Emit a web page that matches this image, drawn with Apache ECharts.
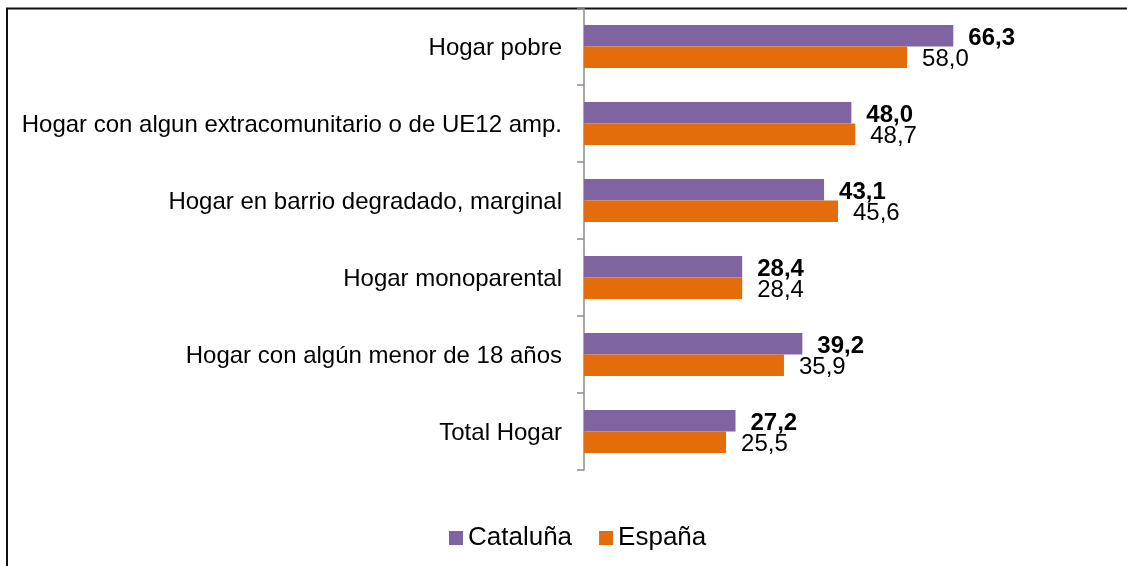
<!DOCTYPE html>
<html>
<head>
<meta charset="utf-8">
<script src="https://cdn.jsdelivr.net/npm/echarts@6/dist/echarts.min.js"></script>
<style>
  html, body { margin: 0; padding: 0; background: #fff; }
  #chart { width: 1127px; height: 566px; }
</style>
</head>
<body>
<div id="chart"></div>
<script>
// Household categories, listed top to bottom
const categories = [
  'Hogar pobre',
  'Hogar con algun extracomunitario o de UE12 amp.',
  'Hogar en barrio degradado, marginal',
  'Hogar monoparental',
  'Hogar con algún menor de 18 años',
  'Total Hogar'
];
const cataluna = [66.3, 48.0, 43.1, 28.4, 39.2, 27.2];
const espana   = [58.0, 48.7, 45.6, 28.4, 35.9, 25.5];

const FONT = "'Liberation Sans', Arial, sans-serif";
const fmt = p => p.value.toFixed(1).replace('.', ',');

const chart = echarts.init(document.getElementById('chart'), null, { renderer: 'canvas' });
chart.setOption({
  backgroundColor: '#ffffff',
  animation: false,
  textStyle: { fontFamily: FONT },
  grid: { left: 584, right: 97.4, top: 8, bottom: 96, containLabel: false },
  xAxis: { type: 'value', min: 0, max: 80, show: false },
  yAxis: {
    type: 'category',
    inverse: true,
    data: categories,
    axisLine: { show: true, lineStyle: { color: '#8c8c8c', width: 1.5 } },
    axisTick: { show: true, length: 7, alignWithLabel: false, lineStyle: { color: '#8c8c8c', width: 1.5 } },
    axisLabel: {
      margin: 22, fontSize: 24, color: '#000', fontFamily: FONT,
      formatter: v => '{c|' + v + '}',
      rich: { c: { fontSize: 24, color: '#000', fontFamily: FONT, padding: [4, 0, 0, 0] } }
    },
    splitLine: { show: false }
  },
  legend: {
    left: 444,
    top: 520,
    icon: 'rect',
    itemWidth: 14,
    itemHeight: 14,
    itemGap: 27,
    textStyle: { fontSize: 26, color: '#000', fontFamily: FONT },
    data: ['Cataluña', 'España']
  },
  series: [
    {
      name: 'Cataluña',
      type: 'bar',
      data: cataluna,
      barWidth: 21.5,
      barGap: '0%',
      itemStyle: { color: '#8064A2' },
      label: {
        show: true, position: 'right', distance: 15, offset: [0, 2.5],
        fontSize: 24, fontWeight: 'bold', color: '#000', fontFamily: FONT,
        formatter: fmt
      }
    },
    {
      name: 'España',
      type: 'bar',
      data: espana,
      barWidth: 21.5,
      barGap: '0%',
      itemStyle: { color: '#E46C0A' },
      label: {
        show: true, position: 'right', distance: 15, offset: [0, 2],
        fontSize: 24, color: '#000', fontFamily: FONT,
        formatter: fmt
      }
    }
  ],
  graphic: [
    { type: 'line', shape: { x1: 7, y1: 8, x2: 7, y2: 566 }, style: { stroke: '#111', lineWidth: 2 } },
    { type: 'line', shape: { x1: 6, y1: 8.5, x2: 1127, y2: 8.5 }, style: { stroke: '#111', lineWidth: 2 } }
  ]
});
</script>
</body>
</html>
